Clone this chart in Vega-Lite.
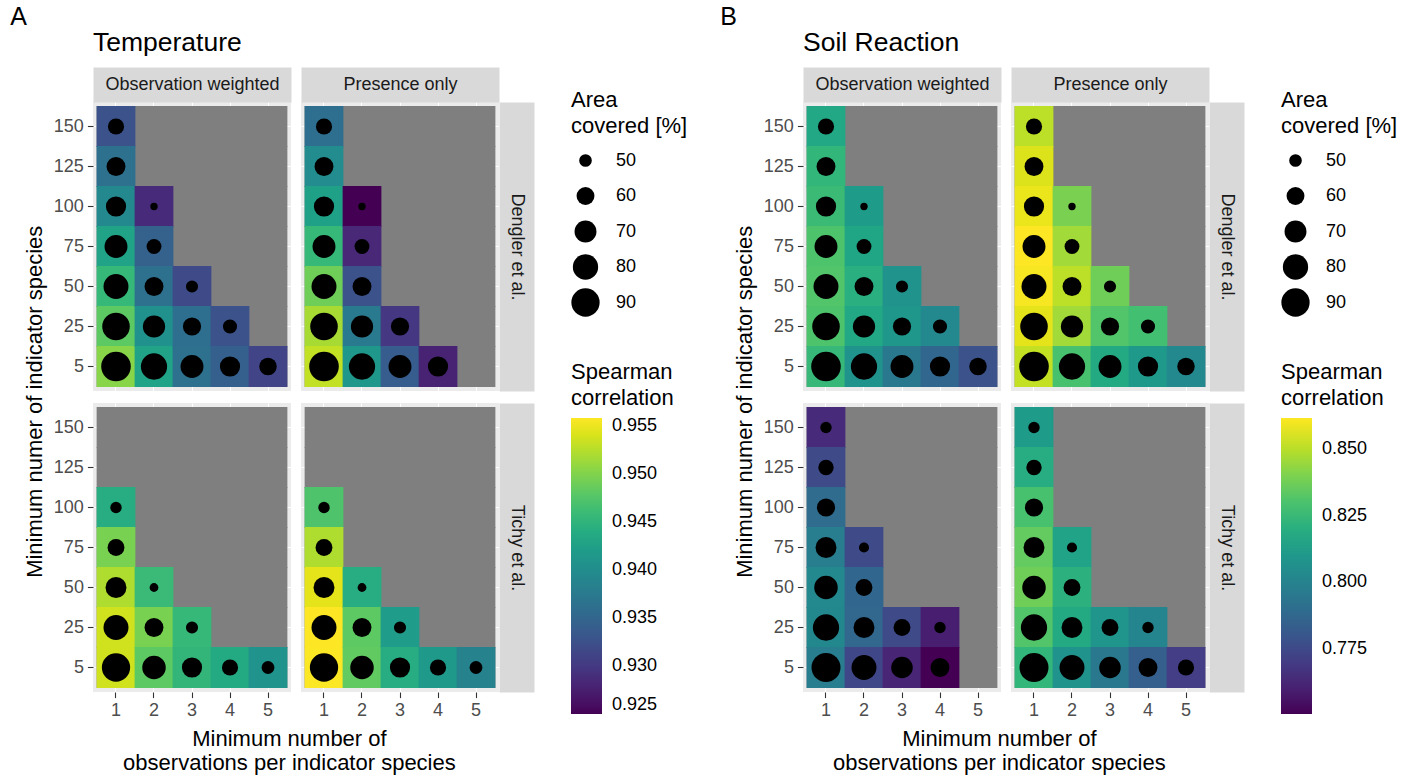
{
"$schema": "https://vega.github.io/schema/vega-lite/v6.json",
"padding": {"left": 10, "top": 5, "right": 5, "bottom": 2},
"config": {
  "font": "Liberation Sans",
  "view": {"stroke": null, "fill": "#ebebeb"},
  "axis": {"zindex": 0, "grid": true, "gridColor": "white", "gridWidth": 1.1, "domain": false, "tickColor": "#333333", "tickSize": 5.6, "tickWidth": 1.1, "labelColor": "#4d4d4d", "labelFontSize": 18, "labelPadding": 4, "titleFontWeight": "normal", "bandPosition": 0.5},
  "legend": {"titleFontWeight": "normal", "titleFontSize": 22, "titleColor": "black", "titleLineHeight": 26, "titlePadding": 8, "labelFontSize": 18, "labelColor": "black", "offset": 45, "layout": {"anchor": "middle", "direction": "vertical", "margin": 45, "right": {"anchor": "middle", "direction": "vertical", "margin": 45}}},
  "title": {"fontWeight": "normal", "color": "black"}
},
"datasets": {
  "grid": [
    {"obs":1,"spec":5},{"obs":1,"spec":25},{"obs":1,"spec":50},{"obs":1,"spec":75},{"obs":1,"spec":100},{"obs":1,"spec":125},{"obs":1,"spec":150},
    {"obs":2,"spec":5},{"obs":2,"spec":25},{"obs":2,"spec":50},{"obs":2,"spec":75},{"obs":2,"spec":100},{"obs":2,"spec":125},{"obs":2,"spec":150},
    {"obs":3,"spec":5},{"obs":3,"spec":25},{"obs":3,"spec":50},{"obs":3,"spec":75},{"obs":3,"spec":100},{"obs":3,"spec":125},{"obs":3,"spec":150},
    {"obs":4,"spec":5},{"obs":4,"spec":25},{"obs":4,"spec":50},{"obs":4,"spec":75},{"obs":4,"spec":100},{"obs":4,"spec":125},{"obs":4,"spec":150},
    {"obs":5,"spec":5},{"obs":5,"spec":25},{"obs":5,"spec":50},{"obs":5,"spec":75},{"obs":5,"spec":100},{"obs":5,"spec":125},{"obs":5,"spec":150}
  ],
  "cells": [
    {"i":"T","s":"D","m":"OW","obs":1,"spec":150,"rho":0.9327,"area":56.3},
    {"i":"T","s":"D","m":"OW","obs":1,"spec":125,"rho":0.9364,"area":62.3},
    {"i":"T","s":"D","m":"OW","obs":1,"spec":100,"rho":0.9395,"area":65.5},
    {"i":"T","s":"D","m":"OW","obs":1,"spec":75,"rho":0.9429,"area":72.9},
    {"i":"T","s":"D","m":"OW","obs":1,"spec":50,"rho":0.9456,"area":78.9},
    {"i":"T","s":"D","m":"OW","obs":1,"spec":25,"rho":0.9481,"area":87.5},
    {"i":"T","s":"D","m":"OW","obs":1,"spec":5,"rho":0.9503,"area":94.7},
    {"i":"T","s":"D","m":"OW","obs":2,"spec":100,"rho":0.9287,"area":43.4},
    {"i":"T","s":"D","m":"OW","obs":2,"spec":75,"rho":0.9345,"area":53.8},
    {"i":"T","s":"D","m":"OW","obs":2,"spec":50,"rho":0.9364,"area":62.3},
    {"i":"T","s":"D","m":"OW","obs":2,"spec":25,"rho":0.9404,"area":70.9},
    {"i":"T","s":"D","m":"OW","obs":2,"spec":5,"rho":0.9429,"area":83.1},
    {"i":"T","s":"D","m":"OW","obs":3,"spec":50,"rho":0.9318,"area":49.2},
    {"i":"T","s":"D","m":"OW","obs":3,"spec":25,"rho":0.9361,"area":60.7},
    {"i":"T","s":"D","m":"OW","obs":3,"spec":5,"rho":0.9364,"area":72.9},
    {"i":"T","s":"D","m":"OW","obs":4,"spec":25,"rho":0.9327,"area":52.5},
    {"i":"T","s":"D","m":"OW","obs":4,"spec":5,"rho":0.9342,"area":65.5},
    {"i":"T","s":"D","m":"OW","obs":5,"spec":5,"rho":0.9312,"area":59.1},

    {"i":"T","s":"D","m":"PO","obs":1,"spec":150,"rho":0.9361,"area":56.3},
    {"i":"T","s":"D","m":"PO","obs":1,"spec":125,"rho":0.9398,"area":62.3},
    {"i":"T","s":"D","m":"PO","obs":1,"spec":100,"rho":0.9426,"area":65.5},
    {"i":"T","s":"D","m":"PO","obs":1,"spec":75,"rho":0.9456,"area":72.9},
    {"i":"T","s":"D","m":"PO","obs":1,"spec":50,"rho":0.9490,"area":78.9},
    {"i":"T","s":"D","m":"PO","obs":1,"spec":25,"rho":0.9518,"area":87.5},
    {"i":"T","s":"D","m":"PO","obs":1,"spec":5,"rho":0.9530,"area":94.7},
    {"i":"T","s":"D","m":"PO","obs":2,"spec":100,"rho":0.9250,"area":43.4},
    {"i":"T","s":"D","m":"PO","obs":2,"spec":75,"rho":0.9284,"area":53.8},
    {"i":"T","s":"D","m":"PO","obs":2,"spec":50,"rho":0.9327,"area":62.3},
    {"i":"T","s":"D","m":"PO","obs":2,"spec":25,"rho":0.9376,"area":70.9},
    {"i":"T","s":"D","m":"PO","obs":2,"spec":5,"rho":0.9413,"area":83.1},
    {"i":"T","s":"D","m":"PO","obs":3,"spec":25,"rho":0.9299,"area":60.7},
    {"i":"T","s":"D","m":"PO","obs":3,"spec":5,"rho":0.9339,"area":72.9},
    {"i":"T","s":"D","m":"PO","obs":4,"spec":5,"rho":0.9278,"area":65.5},

    {"i":"T","s":"Ti","m":"OW","obs":1,"spec":100,"rho":0.9441,"area":48.1},
    {"i":"T","s":"Ti","m":"OW","obs":1,"spec":75,"rho":0.9496,"area":57.8},
    {"i":"T","s":"Ti","m":"OW","obs":1,"spec":50,"rho":0.9521,"area":67.3},
    {"i":"T","s":"Ti","m":"OW","obs":1,"spec":25,"rho":0.9536,"area":78.9},
    {"i":"T","s":"Ti","m":"OW","obs":1,"spec":5,"rho":0.9536,"area":90.0},
    {"i":"T","s":"Ti","m":"OW","obs":2,"spec":50,"rho":0.9459,"area":44.8},
    {"i":"T","s":"Ti","m":"OW","obs":2,"spec":25,"rho":0.9496,"area":62.3},
    {"i":"T","s":"Ti","m":"OW","obs":2,"spec":5,"rho":0.9481,"area":74.6},
    {"i":"T","s":"Ti","m":"OW","obs":3,"spec":25,"rho":0.9456,"area":49.2},
    {"i":"T","s":"Ti","m":"OW","obs":3,"spec":5,"rho":0.9453,"area":65.5},
    {"i":"T","s":"Ti","m":"OW","obs":4,"spec":5,"rho":0.9438,"area":56.3},
    {"i":"T","s":"Ti","m":"OW","obs":5,"spec":5,"rho":0.9407,"area":50.3},

    {"i":"T","s":"Ti","m":"PO","obs":1,"spec":100,"rho":0.9472,"area":48.1},
    {"i":"T","s":"Ti","m":"PO","obs":1,"spec":75,"rho":0.9521,"area":57.8},
    {"i":"T","s":"Ti","m":"PO","obs":1,"spec":50,"rho":0.9546,"area":67.3},
    {"i":"T","s":"Ti","m":"PO","obs":1,"spec":25,"rho":0.9558,"area":78.9},
    {"i":"T","s":"Ti","m":"PO","obs":1,"spec":5,"rho":0.9557,"area":90.0},
    {"i":"T","s":"Ti","m":"PO","obs":2,"spec":50,"rho":0.9441,"area":44.8},
    {"i":"T","s":"Ti","m":"PO","obs":2,"spec":25,"rho":0.9481,"area":62.3},
    {"i":"T","s":"Ti","m":"PO","obs":2,"spec":5,"rho":0.9483,"area":74.6},
    {"i":"T","s":"Ti","m":"PO","obs":3,"spec":25,"rho":0.9419,"area":49.2},
    {"i":"T","s":"Ti","m":"PO","obs":3,"spec":5,"rho":0.9441,"area":65.5},
    {"i":"T","s":"Ti","m":"PO","obs":4,"spec":5,"rho":0.9416,"area":56.3},
    {"i":"T","s":"Ti","m":"PO","obs":5,"spec":5,"rho":0.9386,"area":50.3},

    {"i":"S","s":"D","m":"OW","obs":1,"spec":150,"rho":0.8172,"area":56.3},
    {"i":"S","s":"D","m":"OW","obs":1,"spec":125,"rho":0.8239,"area":62.3},
    {"i":"S","s":"D","m":"OW","obs":1,"spec":100,"rho":0.8261,"area":65.5},
    {"i":"S","s":"D","m":"OW","obs":1,"spec":75,"rho":0.8305,"area":72.9},
    {"i":"S","s":"D","m":"OW","obs":1,"spec":50,"rho":0.8316,"area":78.9},
    {"i":"S","s":"D","m":"OW","obs":1,"spec":25,"rho":0.8305,"area":87.5},
    {"i":"S","s":"D","m":"OW","obs":1,"spec":5,"rho":0.8250,"area":94.7},
    {"i":"S","s":"D","m":"OW","obs":2,"spec":100,"rho":0.8117,"area":43.4},
    {"i":"S","s":"D","m":"OW","obs":2,"spec":75,"rho":0.8161,"area":53.8},
    {"i":"S","s":"D","m":"OW","obs":2,"spec":50,"rho":0.8205,"area":62.3},
    {"i":"S","s":"D","m":"OW","obs":2,"spec":25,"rho":0.8172,"area":70.9},
    {"i":"S","s":"D","m":"OW","obs":2,"spec":5,"rho":0.8072,"area":83.1},
    {"i":"S","s":"D","m":"OW","obs":3,"spec":50,"rho":0.8072,"area":49.2},
    {"i":"S","s":"D","m":"OW","obs":3,"spec":25,"rho":0.8094,"area":60.7},
    {"i":"S","s":"D","m":"OW","obs":3,"spec":5,"rho":0.7950,"area":72.9},
    {"i":"S","s":"D","m":"OW","obs":4,"spec":25,"rho":0.8028,"area":52.5},
    {"i":"S","s":"D","m":"OW","obs":4,"spec":5,"rho":0.7872,"area":65.5},
    {"i":"S","s":"D","m":"OW","obs":5,"spec":5,"rho":0.7784,"area":59.1},

    {"i":"S","s":"D","m":"PO","obs":1,"spec":150,"rho":0.8505,"area":56.3},
    {"i":"S","s":"D","m":"PO","obs":1,"spec":125,"rho":0.8560,"area":62.3},
    {"i":"S","s":"D","m":"PO","obs":1,"spec":100,"rho":0.8583,"area":65.5},
    {"i":"S","s":"D","m":"PO","obs":1,"spec":75,"rho":0.8616,"area":72.9},
    {"i":"S","s":"D","m":"PO","obs":1,"spec":50,"rho":0.8605,"area":78.9},
    {"i":"S","s":"D","m":"PO","obs":1,"spec":25,"rho":0.8572,"area":87.5},
    {"i":"S","s":"D","m":"PO","obs":1,"spec":5,"rho":0.8516,"area":94.7},
    {"i":"S","s":"D","m":"PO","obs":2,"spec":100,"rho":0.8394,"area":43.4},
    {"i":"S","s":"D","m":"PO","obs":2,"spec":75,"rho":0.8461,"area":53.8},
    {"i":"S","s":"D","m":"PO","obs":2,"spec":50,"rho":0.8505,"area":62.3},
    {"i":"S","s":"D","m":"PO","obs":2,"spec":25,"rho":0.8461,"area":70.9},
    {"i":"S","s":"D","m":"PO","obs":2,"spec":5,"rho":0.8294,"area":83.1},
    {"i":"S","s":"D","m":"PO","obs":3,"spec":50,"rho":0.8372,"area":49.2},
    {"i":"S","s":"D","m":"PO","obs":3,"spec":25,"rho":0.8316,"area":60.7},
    {"i":"S","s":"D","m":"PO","obs":3,"spec":5,"rho":0.8183,"area":72.9},
    {"i":"S","s":"D","m":"PO","obs":4,"spec":25,"rho":0.8283,"area":52.5},
    {"i":"S","s":"D","m":"PO","obs":4,"spec":5,"rho":0.8105,"area":65.5},
    {"i":"S","s":"D","m":"PO","obs":5,"spec":5,"rho":0.8028,"area":59.1},

    {"i":"S","s":"Ti","m":"OW","obs":1,"spec":150,"rho":0.7640,"area":48.1},
    {"i":"S","s":"Ti","m":"OW","obs":1,"spec":125,"rho":0.7750,"area":54.9},
    {"i":"S","s":"Ti","m":"OW","obs":1,"spec":100,"rho":0.7895,"area":60.7},
    {"i":"S","s":"Ti","m":"OW","obs":1,"spec":75,"rho":0.7970,"area":67.3},
    {"i":"S","s":"Ti","m":"OW","obs":1,"spec":50,"rho":0.8030,"area":74.6},
    {"i":"S","s":"Ti","m":"OW","obs":1,"spec":25,"rho":0.8020,"area":83.1},
    {"i":"S","s":"Ti","m":"OW","obs":1,"spec":5,"rho":0.7970,"area":92.5},
    {"i":"S","s":"Ti","m":"OW","obs":2,"spec":75,"rho":0.7750,"area":46.4},
    {"i":"S","s":"Ti","m":"OW","obs":2,"spec":50,"rho":0.7872,"area":57.8},
    {"i":"S","s":"Ti","m":"OW","obs":2,"spec":25,"rho":0.7870,"area":67.3},
    {"i":"S","s":"Ti","m":"OW","obs":2,"spec":5,"rho":0.7739,"area":78.9},
    {"i":"S","s":"Ti","m":"OW","obs":3,"spec":25,"rho":0.7750,"area":57.8},
    {"i":"S","s":"Ti","m":"OW","obs":3,"spec":5,"rho":0.7617,"area":69.0},
    {"i":"S","s":"Ti","m":"OW","obs":4,"spec":25,"rho":0.7595,"area":48.1},
    {"i":"S","s":"Ti","m":"OW","obs":4,"spec":5,"rho":0.7506,"area":62.3},

    {"i":"S","s":"Ti","m":"PO","obs":1,"spec":150,"rho":0.8117,"area":48.1},
    {"i":"S","s":"Ti","m":"PO","obs":1,"spec":125,"rho":0.8194,"area":54.9},
    {"i":"S","s":"Ti","m":"PO","obs":1,"spec":100,"rho":0.8294,"area":60.7},
    {"i":"S","s":"Ti","m":"PO","obs":1,"spec":75,"rho":0.8350,"area":67.3},
    {"i":"S","s":"Ti","m":"PO","obs":1,"spec":50,"rho":0.8372,"area":74.6},
    {"i":"S","s":"Ti","m":"PO","obs":1,"spec":25,"rho":0.8316,"area":83.1},
    {"i":"S","s":"Ti","m":"PO","obs":1,"spec":5,"rho":0.8239,"area":92.5},
    {"i":"S","s":"Ti","m":"PO","obs":2,"spec":75,"rho":0.8150,"area":46.4},
    {"i":"S","s":"Ti","m":"PO","obs":2,"spec":50,"rho":0.8216,"area":57.8},
    {"i":"S","s":"Ti","m":"PO","obs":2,"spec":25,"rho":0.8183,"area":67.3},
    {"i":"S","s":"Ti","m":"PO","obs":2,"spec":5,"rho":0.8072,"area":78.9},
    {"i":"S","s":"Ti","m":"PO","obs":3,"spec":25,"rho":0.8083,"area":57.8},
    {"i":"S","s":"Ti","m":"PO","obs":3,"spec":5,"rho":0.7950,"area":69.0},
    {"i":"S","s":"Ti","m":"PO","obs":4,"spec":25,"rho":0.8006,"area":48.1},
    {"i":"S","s":"Ti","m":"PO","obs":4,"spec":5,"rho":0.7839,"area":62.3},
    {"i":"S","s":"Ti","m":"PO","obs":5,"spec":5,"rho":0.7706,"area":56.3}
  ]
},
"spacing": 32,
"resolve": {"scale": {"color": "independent", "size": "independent"}, "legend": {"color": "independent", "size": "independent"}},
"hconcat": [
 {
  "title": {"text": "A", "anchor": "start", "frame": "bounds", "fontSize": 25, "dx": -14, "offset": 0},
  "resolve": {"scale": {"color": "shared", "size": "shared"}},
  "hconcat": [{
   "title": {"text": "Minimum numer of indicator species", "orient": "left", "anchor": "middle", "fontSize": 22, "offset": 6},
   "resolve": {"scale": {"color": "shared", "size": "shared"}},
   "hconcat": [{
    "title": {"text": ["Minimum number of", "observations per indicator species"], "orient": "bottom", "anchor": "middle", "fontSize": 22, "lineHeight": 24, "offset": 9},
    "resolve": {"scale": {"color": "shared", "size": "shared"}},
    "columns": 2, "bounds": "flush", "spacing": {"row": 12, "column": 10},
    "concat": [
     {
      "width": 198, "height": 289,
      "title": {"text": "Temperature", "anchor": "start", "frame": "group", "fontSize": 26.5, "offset": 19},
      "encoding": {
        "x": {"field": "obs", "type": "ordinal", "scale": {"type": "band", "domain": [1,2,3,4,5], "paddingInner": 0, "paddingOuter": 0.105263},
              "axis": {"orient": "top", "title": "Observation weighted", "labels": false, "ticks": false, "domain": true, "domainColor": "#d9d9d9", "domainWidth": 35, "offset": 17.5, "titlePadding": 0, "titleBaseline": "middle", "titleFontSize": 18, "titleColor": "#1a1a1a", "minExtent": 0, "maxExtent": 0}},
        "y": {"field": "spec", "type": "ordinal", "scale": {"type": "band", "domain": [150,125,100,75,50,25,5], "paddingInner": 0, "paddingOuter": 0.1125},
              "axis": {"orient": "left", "title": null}}
      },
      "layer": [
        {"data": {"name": "grid"}, "mark": {"type": "rect", "color": "#7f7f7f", "width": {"band": 1.02}, "height": {"band": 1.02}}},
        {"data": {"name": "cells"}, "transform": [{"filter": "datum.i=='T'&&datum.s=='D'&&datum.m=='OW'"}], "mark": {"type": "circle", "color": "black", "opacity": 1},
         "encoding": {"size": {"field": "area", "type": "quantitative", "scale": {"domain": [40, 90], "range": [0, 800]},
            "legend": {"title": ["Area", "covered [%]"], "values": [50,60,70,80,90], "clipHeight": 29, "rowPadding": 6.5, "labelOffset": 16, "symbolStrokeWidth": 0}}}},
        {"data": {"name": "cells"}, "transform": [{"filter": "datum.i=='T'&&datum.s=='D'&&datum.m=='OW'"}], "mark": {"type": "rect", "width": {"band": 1.02}, "height": {"band": 1.02}},
         "encoding": {"color": {"field": "rho", "type": "quantitative", "scale": {"scheme": "viridis", "domain": [0.925, 0.9558]},
            "legend": {"title": ["Spearman", "correlation"], "values": [0.925,0.93,0.935,0.94,0.945,0.95,0.955], "format": ".3f", "gradientLength": 296, "gradientThickness": 31, "labelOffset": 10, "labelBaseline": "middle", "labelOverlap": false}}}},
        {"data": {"name": "cells"}, "transform": [{"filter": "datum.i=='T'&&datum.s=='D'&&datum.m=='OW'"}], "mark": {"type": "circle", "color": "black", "opacity": 1},
         "encoding": {"size": {"field": "area", "type": "quantitative", "scale": {"domain": [40, 90], "range": [0, 800]}, "legend": null}}}
      ]
     },
     {
      "width": 198, "height": 289,
      "encoding": {
        "x": {"field": "obs", "type": "ordinal", "scale": {"type": "band", "domain": [1,2,3,4,5], "paddingInner": 0, "paddingOuter": 0.105263},
              "axis": {"orient": "top", "title": "Presence only", "labels": false, "ticks": false, "domain": true, "domainColor": "#d9d9d9", "domainWidth": 35, "offset": 17.5, "titlePadding": 0, "titleBaseline": "middle", "titleFontSize": 18, "titleColor": "#1a1a1a", "minExtent": 0, "maxExtent": 0}},
        "y": {"field": "spec", "type": "ordinal", "scale": {"type": "band", "domain": [150,125,100,75,50,25,5], "paddingInner": 0, "paddingOuter": 0.1125},
              "axis": {"orient": "right", "title": "Dengler et al.", "labels": false, "ticks": false, "domain": true, "domainColor": "#d9d9d9", "domainWidth": 35, "offset": 17.5, "titlePadding": 0, "titleAngle": 90, "titleBaseline": "middle", "titleAlign": "center", "titleFontSize": 18, "titleColor": "#1a1a1a", "minExtent": 0, "maxExtent": 0}}
      },
      "layer": [
        {"data": {"name": "grid"}, "mark": {"type": "rect", "color": "#7f7f7f", "width": {"band": 1.02}, "height": {"band": 1.02}}},
        {"data": {"name": "cells"}, "transform": [{"filter": "datum.i=='T'&&datum.s=='D'&&datum.m=='PO'"}], "mark": {"type": "rect", "width": {"band": 1.02}, "height": {"band": 1.02}},
         "encoding": {"color": {"field": "rho", "type": "quantitative", "scale": {"scheme": "viridis", "domain": [0.925, 0.9558]}, "legend": null}}},
        {"data": {"name": "cells"}, "transform": [{"filter": "datum.i=='T'&&datum.s=='D'&&datum.m=='PO'"}], "mark": {"type": "circle", "color": "black", "opacity": 1},
         "encoding": {"size": {"field": "area", "type": "quantitative", "scale": {"domain": [40, 90], "range": [0, 800]}, "legend": null}}}
      ]
     },
     {
      "width": 198, "height": 289,
      "encoding": {
        "x": {"field": "obs", "type": "ordinal", "scale": {"type": "band", "domain": [1,2,3,4,5], "paddingInner": 0, "paddingOuter": 0.105263},
              "axis": {"orient": "bottom", "title": null, "labelAngle": 0}},
        "y": {"field": "spec", "type": "ordinal", "scale": {"type": "band", "domain": [150,125,100,75,50,25,5], "paddingInner": 0, "paddingOuter": 0.1125},
              "axis": {"orient": "left", "title": null}}
      },
      "layer": [
        {"data": {"name": "grid"}, "mark": {"type": "rect", "color": "#7f7f7f", "width": {"band": 1.02}, "height": {"band": 1.02}}},
        {"data": {"name": "cells"}, "transform": [{"filter": "datum.i=='T'&&datum.s=='Ti'&&datum.m=='OW'"}], "mark": {"type": "rect", "width": {"band": 1.02}, "height": {"band": 1.02}},
         "encoding": {"color": {"field": "rho", "type": "quantitative", "scale": {"scheme": "viridis", "domain": [0.925, 0.9558]}, "legend": null}}},
        {"data": {"name": "cells"}, "transform": [{"filter": "datum.i=='T'&&datum.s=='Ti'&&datum.m=='OW'"}], "mark": {"type": "circle", "color": "black", "opacity": 1},
         "encoding": {"size": {"field": "area", "type": "quantitative", "scale": {"domain": [40, 90], "range": [0, 800]}, "legend": null}}}
      ]
     },
     {
      "width": 198, "height": 289,
      "encoding": {
        "x": {"field": "obs", "type": "ordinal", "scale": {"type": "band", "domain": [1,2,3,4,5], "paddingInner": 0, "paddingOuter": 0.105263},
              "axis": {"orient": "bottom", "title": null, "labelAngle": 0}},
        "y": {"field": "spec", "type": "ordinal", "scale": {"type": "band", "domain": [150,125,100,75,50,25,5], "paddingInner": 0, "paddingOuter": 0.1125},
              "axis": {"orient": "right", "title": "Tichy et al.", "labels": false, "ticks": false, "domain": true, "domainColor": "#d9d9d9", "domainWidth": 35, "offset": 17.5, "titlePadding": 0, "titleAngle": 90, "titleBaseline": "middle", "titleAlign": "center", "titleFontSize": 18, "titleColor": "#1a1a1a", "minExtent": 0, "maxExtent": 0}}
      },
      "layer": [
        {"data": {"name": "grid"}, "mark": {"type": "rect", "color": "#7f7f7f", "width": {"band": 1.02}, "height": {"band": 1.02}}},
        {"data": {"name": "cells"}, "transform": [{"filter": "datum.i=='T'&&datum.s=='Ti'&&datum.m=='PO'"}], "mark": {"type": "rect", "width": {"band": 1.02}, "height": {"band": 1.02}},
         "encoding": {"color": {"field": "rho", "type": "quantitative", "scale": {"scheme": "viridis", "domain": [0.925, 0.9558]}, "legend": null}}},
        {"data": {"name": "cells"}, "transform": [{"filter": "datum.i=='T'&&datum.s=='Ti'&&datum.m=='PO'"}], "mark": {"type": "circle", "color": "black", "opacity": 1},
         "encoding": {"size": {"field": "area", "type": "quantitative", "scale": {"domain": [40, 90], "range": [0, 800]}, "legend": null}}}
      ]
     }
    ]
   }]
  }]
 },
 {
  "title": {"text": "B", "anchor": "start", "frame": "bounds", "fontSize": 25, "dx": -14, "offset": 0},
  "resolve": {"scale": {"color": "shared", "size": "shared"}},
  "hconcat": [{
   "title": {"text": "Minimum numer of indicator species", "orient": "left", "anchor": "middle", "fontSize": 22, "offset": 6},
   "resolve": {"scale": {"color": "shared", "size": "shared"}},
   "hconcat": [{
    "title": {"text": ["Minimum number of", "observations per indicator species"], "orient": "bottom", "anchor": "middle", "fontSize": 22, "lineHeight": 24, "offset": 9},
    "resolve": {"scale": {"color": "shared", "size": "shared"}},
    "columns": 2, "bounds": "flush", "spacing": {"row": 12, "column": 10},
    "concat": [
     {
      "width": 198, "height": 289,
      "title": {"text": "Soil Reaction", "anchor": "start", "frame": "group", "fontSize": 26.5, "offset": 19},
      "encoding": {
        "x": {"field": "obs", "type": "ordinal", "scale": {"type": "band", "domain": [1,2,3,4,5], "paddingInner": 0, "paddingOuter": 0.105263},
              "axis": {"orient": "top", "title": "Observation weighted", "labels": false, "ticks": false, "domain": true, "domainColor": "#d9d9d9", "domainWidth": 35, "offset": 17.5, "titlePadding": 0, "titleBaseline": "middle", "titleFontSize": 18, "titleColor": "#1a1a1a", "minExtent": 0, "maxExtent": 0}},
        "y": {"field": "spec", "type": "ordinal", "scale": {"type": "band", "domain": [150,125,100,75,50,25,5], "paddingInner": 0, "paddingOuter": 0.1125},
              "axis": {"orient": "left", "title": null}}
      },
      "layer": [
        {"data": {"name": "grid"}, "mark": {"type": "rect", "color": "#7f7f7f", "width": {"band": 1.02}, "height": {"band": 1.02}}},
        {"data": {"name": "cells"}, "transform": [{"filter": "datum.i=='S'&&datum.s=='D'&&datum.m=='OW'"}], "mark": {"type": "circle", "color": "black", "opacity": 1},
         "encoding": {"size": {"field": "area", "type": "quantitative", "scale": {"domain": [40, 90], "range": [0, 800]},
            "legend": {"title": ["Area", "covered [%]"], "values": [50,60,70,80,90], "clipHeight": 29, "rowPadding": 6.5, "labelOffset": 16, "symbolStrokeWidth": 0}}}},
        {"data": {"name": "cells"}, "transform": [{"filter": "datum.i=='S'&&datum.s=='D'&&datum.m=='OW'"}], "mark": {"type": "rect", "width": {"band": 1.02}, "height": {"band": 1.02}},
         "encoding": {"color": {"field": "rho", "type": "quantitative", "scale": {"scheme": "viridis", "domain": [0.7506, 0.8616]},
            "legend": {"title": ["Spearman", "correlation"], "values": [0.775,0.8,0.825,0.85], "format": ".3f", "gradientLength": 296, "gradientThickness": 31, "labelOffset": 10, "labelBaseline": "middle", "labelOverlap": false}}}},
        {"data": {"name": "cells"}, "transform": [{"filter": "datum.i=='S'&&datum.s=='D'&&datum.m=='OW'"}], "mark": {"type": "circle", "color": "black", "opacity": 1},
         "encoding": {"size": {"field": "area", "type": "quantitative", "scale": {"domain": [40, 90], "range": [0, 800]}, "legend": null}}}
      ]
     },
     {
      "width": 198, "height": 289,
      "encoding": {
        "x": {"field": "obs", "type": "ordinal", "scale": {"type": "band", "domain": [1,2,3,4,5], "paddingInner": 0, "paddingOuter": 0.105263},
              "axis": {"orient": "top", "title": "Presence only", "labels": false, "ticks": false, "domain": true, "domainColor": "#d9d9d9", "domainWidth": 35, "offset": 17.5, "titlePadding": 0, "titleBaseline": "middle", "titleFontSize": 18, "titleColor": "#1a1a1a", "minExtent": 0, "maxExtent": 0}},
        "y": {"field": "spec", "type": "ordinal", "scale": {"type": "band", "domain": [150,125,100,75,50,25,5], "paddingInner": 0, "paddingOuter": 0.1125},
              "axis": {"orient": "right", "title": "Dengler et al.", "labels": false, "ticks": false, "domain": true, "domainColor": "#d9d9d9", "domainWidth": 35, "offset": 17.5, "titlePadding": 0, "titleAngle": 90, "titleBaseline": "middle", "titleAlign": "center", "titleFontSize": 18, "titleColor": "#1a1a1a", "minExtent": 0, "maxExtent": 0}}
      },
      "layer": [
        {"data": {"name": "grid"}, "mark": {"type": "rect", "color": "#7f7f7f", "width": {"band": 1.02}, "height": {"band": 1.02}}},
        {"data": {"name": "cells"}, "transform": [{"filter": "datum.i=='S'&&datum.s=='D'&&datum.m=='PO'"}], "mark": {"type": "rect", "width": {"band": 1.02}, "height": {"band": 1.02}},
         "encoding": {"color": {"field": "rho", "type": "quantitative", "scale": {"scheme": "viridis", "domain": [0.7506, 0.8616]}, "legend": null}}},
        {"data": {"name": "cells"}, "transform": [{"filter": "datum.i=='S'&&datum.s=='D'&&datum.m=='PO'"}], "mark": {"type": "circle", "color": "black", "opacity": 1},
         "encoding": {"size": {"field": "area", "type": "quantitative", "scale": {"domain": [40, 90], "range": [0, 800]}, "legend": null}}}
      ]
     },
     {
      "width": 198, "height": 289,
      "encoding": {
        "x": {"field": "obs", "type": "ordinal", "scale": {"type": "band", "domain": [1,2,3,4,5], "paddingInner": 0, "paddingOuter": 0.105263},
              "axis": {"orient": "bottom", "title": null, "labelAngle": 0}},
        "y": {"field": "spec", "type": "ordinal", "scale": {"type": "band", "domain": [150,125,100,75,50,25,5], "paddingInner": 0, "paddingOuter": 0.1125},
              "axis": {"orient": "left", "title": null}}
      },
      "layer": [
        {"data": {"name": "grid"}, "mark": {"type": "rect", "color": "#7f7f7f", "width": {"band": 1.02}, "height": {"band": 1.02}}},
        {"data": {"name": "cells"}, "transform": [{"filter": "datum.i=='S'&&datum.s=='Ti'&&datum.m=='OW'"}], "mark": {"type": "rect", "width": {"band": 1.02}, "height": {"band": 1.02}},
         "encoding": {"color": {"field": "rho", "type": "quantitative", "scale": {"scheme": "viridis", "domain": [0.7506, 0.8616]}, "legend": null}}},
        {"data": {"name": "cells"}, "transform": [{"filter": "datum.i=='S'&&datum.s=='Ti'&&datum.m=='OW'"}], "mark": {"type": "circle", "color": "black", "opacity": 1},
         "encoding": {"size": {"field": "area", "type": "quantitative", "scale": {"domain": [40, 90], "range": [0, 800]}, "legend": null}}}
      ]
     },
     {
      "width": 198, "height": 289,
      "encoding": {
        "x": {"field": "obs", "type": "ordinal", "scale": {"type": "band", "domain": [1,2,3,4,5], "paddingInner": 0, "paddingOuter": 0.105263},
              "axis": {"orient": "bottom", "title": null, "labelAngle": 0}},
        "y": {"field": "spec", "type": "ordinal", "scale": {"type": "band", "domain": [150,125,100,75,50,25,5], "paddingInner": 0, "paddingOuter": 0.1125},
              "axis": {"orient": "right", "title": "Tichy et al.", "labels": false, "ticks": false, "domain": true, "domainColor": "#d9d9d9", "domainWidth": 35, "offset": 17.5, "titlePadding": 0, "titleAngle": 90, "titleBaseline": "middle", "titleAlign": "center", "titleFontSize": 18, "titleColor": "#1a1a1a", "minExtent": 0, "maxExtent": 0}}
      },
      "layer": [
        {"data": {"name": "grid"}, "mark": {"type": "rect", "color": "#7f7f7f", "width": {"band": 1.02}, "height": {"band": 1.02}}},
        {"data": {"name": "cells"}, "transform": [{"filter": "datum.i=='S'&&datum.s=='Ti'&&datum.m=='PO'"}], "mark": {"type": "rect", "width": {"band": 1.02}, "height": {"band": 1.02}},
         "encoding": {"color": {"field": "rho", "type": "quantitative", "scale": {"scheme": "viridis", "domain": [0.7506, 0.8616]}, "legend": null}}},
        {"data": {"name": "cells"}, "transform": [{"filter": "datum.i=='S'&&datum.s=='Ti'&&datum.m=='PO'"}], "mark": {"type": "circle", "color": "black", "opacity": 1},
         "encoding": {"size": {"field": "area", "type": "quantitative", "scale": {"domain": [40, 90], "range": [0, 800]}, "legend": null}}}
      ]
     }
    ]
   }]
  }]
 }
]
}
